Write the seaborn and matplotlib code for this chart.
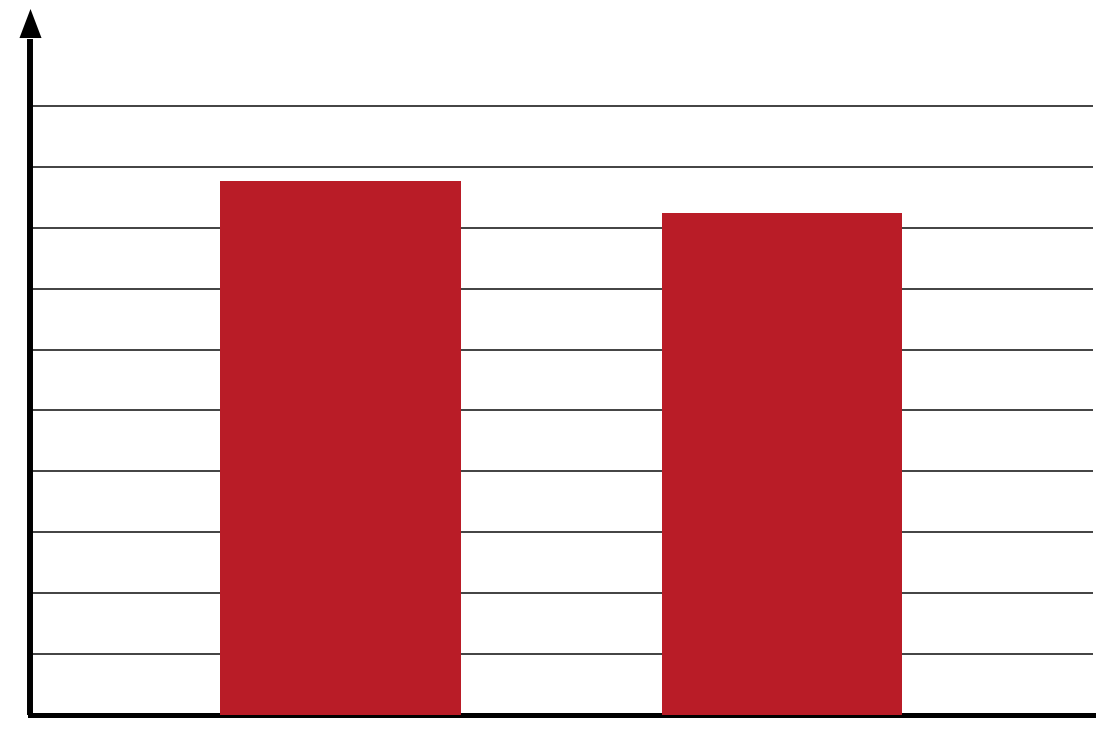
import matplotlib
matplotlib.use("Agg")
import matplotlib.pyplot as plt
import seaborn as sns
import pandas as pd

# values (gridlines are 1 unit apart)
categories = ["A", "B"]
values = [8.77, 8.25]
grid_levels = list(range(1, 11))

bar_color = "#B91C27"

sns.set_theme(style="white")

df = pd.DataFrame({"cat": categories, "val": values})

fig = plt.figure(figsize=(11.05, 7.3), dpi=100)
ax = fig.add_axes([30 / 1105, 15 / 730, 1063 / 1105, 676 / 730])

sns.barplot(data=df, x="cat", y="val", color=bar_color, saturation=1,
            width=0.544, ax=ax, zorder=3)
for p in ax.patches:
    p.set_edgecolor("none")

ax.set_xlim(-0.703, 1.704)
ax.set_ylim(0, 11.1)
ax.set_yticks(grid_levels)
ax.set_yticklabels([])
ax.set_xticks([])
ax.set_xlabel("")
ax.set_ylabel("")
ax.tick_params(length=0)
ax.yaxis.grid(True, color="#333333", linewidth=1.3)
ax.set_axisbelow(True)

for side in ["top", "right"]:
    ax.spines[side].set_visible(False)
ax.spines["left"].set_linewidth(4.3)
ax.spines["left"].set_color("black")
ax.spines["bottom"].set_linewidth(3.6)
ax.spines["bottom"].set_color("black")
ax.spines["left"].set_capstyle("butt")

# arrow head on the y axis
ax.plot([0], [1.0244], transform=ax.transAxes, clip_on=False,
        marker=[(0, 1), (-0.76, -1), (0.76, -1)], markersize=20.9,
        color="black", markeredgewidth=0, zorder=5)

fig.savefig("out.png", dpi=100, facecolor="white")
